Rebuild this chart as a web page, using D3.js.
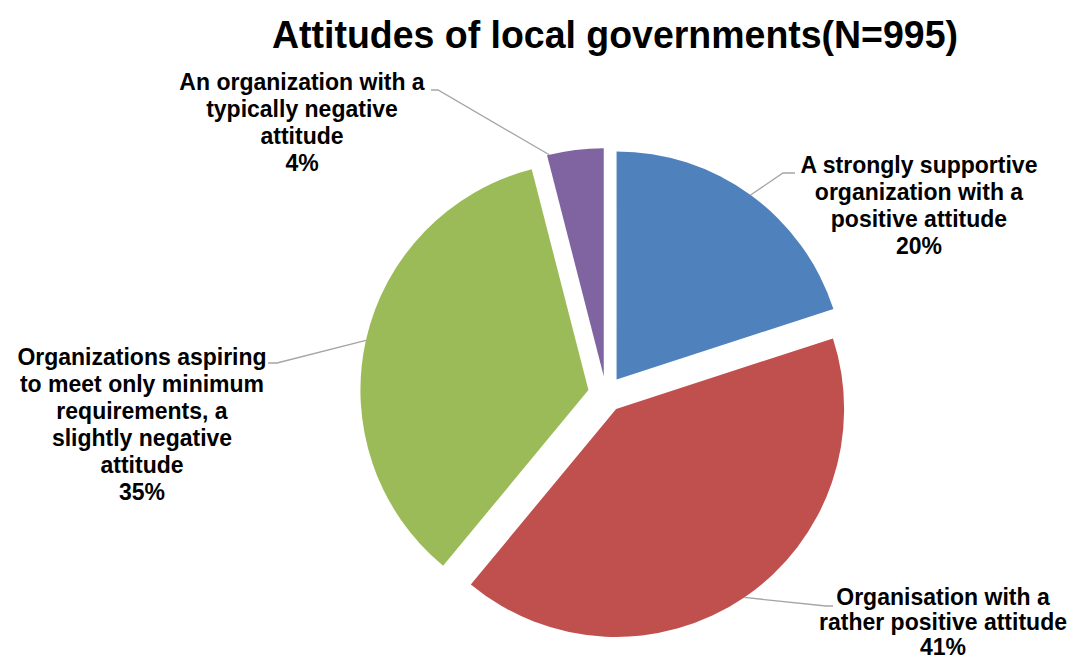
<!DOCTYPE html>
<html>
<head>
<meta charset="utf-8">
<script src="https://cdn.jsdelivr.net/npm/d3@7"></script>
<style>
  body { margin: 0; background: #fff; }
  svg { display: block; font-family: "Liberation Sans", Arial, sans-serif; }
</style>
</head>
<body>
<div id="chart"></div>
<script>
// Attitudes of local governments - exploded pie
const categories = [
  "A strongly supportive organization with a positive attitude",
  "Organisation with a rather positive attitude",
  "Organizations aspiring to meet only minimum requirements, a slightly negative attitude",
  "An organization with a typically negative attitude"
];
const shares = [20, 41, 35, 4];
const colors = ["#4F81BD", "#C0504D", "#9BBB59", "#8064A2"];
const labelLines = [
  ["A strongly supportive", "organization with a", "positive attitude"],
  ["Organisation with a", "rather positive attitude"],
  ["Organizations aspiring", "to meet only minimum", "requirements, a", "slightly negative", "attitude"],
  ["An organization with a", "typically negative", "attitude"]
];

const W = 1077, H = 663;
const cx = 606, cy = 394, R = 228, explode = 18;

// label placement (centre x, first baseline y) and leader elbows
const labelLayout = [
  { x: 919, y: 173, dy: 27, anchor: 0.5, elbow: [[783, 173], [795, 173]] },
  { x: 943, y: 605, dy: 25, anchor: 0.5, elbow: [[826, 606], [833, 606]] },
  { x: 142, y: 365, dy: 27, anchor: 0.5, elbow: [[277, 363], [268, 363]] },
  { x: 302, y: 90, dy: 27, anchor: 0.04, elbow: [[438, 90], [431, 90]] }
];

const svg = d3.select("#chart").append("svg")
  .attr("width", W)
  .attr("height", H);

svg.append("text")
  .attr("x", 615)
  .attr("y", 48)
  .attr("text-anchor", "middle")
  .attr("font-size", 39)
  .attr("font-weight", "bold")
  .attr("textLength", 686)
  .attr("lengthAdjust", "spacingAndGlyphs")
  .text("Attitudes of local governments(N=995)");

const pie = d3.pie().sort(null).value(d => d);
const arcs = pie(shares);
const arc = d3.arc().innerRadius(0).outerRadius(R);

const offset = d => {
  const m = (d.startAngle + d.endAngle) / 2;
  return [explode * Math.sin(m), -explode * Math.cos(m)];
};

svg.append("g").selectAll("path")
  .data(arcs)
  .join("path")
  .attr("transform", d => {
    const [ox, oy] = offset(d);
    return `translate(${cx + ox},${cy + oy})`;
  })
  .attr("d", arc)
  .attr("fill", (d, i) => colors[i]);

// leader lines
const line = d3.line();
svg.append("g").selectAll("path")
  .data(arcs)
  .join("path")
  .attr("fill", "none")
  .attr("stroke", "#a5a5a5")
  .attr("stroke-width", 1.3)
  .attr("d", (d, i) => {
    const L = labelLayout[i];
    const a = d.startAngle + (d.endAngle - d.startAngle) * L.anchor;
    const [ox, oy] = offset(d);
    const p = [cx + ox + R * Math.sin(a), cy + oy - R * Math.cos(a)];
    return line([p, ...L.elbow]);
  });

// labels
const labels = svg.append("g")
  .attr("font-size", 23)
  .attr("font-weight", "bold")
  .attr("fill", "#000")
  .attr("text-anchor", "middle");

arcs.forEach((d, i) => {
  const L = labelLayout[i];
  const t = labels.append("text").attr("x", L.x).attr("y", L.y);
  const lines = [...labelLines[i], shares[i] + "%"];
  lines.forEach((s, j) => {
    t.append("tspan")
      .attr("x", L.x)
      .attr("dy", j === 0 ? 0 : L.dy)
      .text(s);
  });
});
</script>
</body>
</html>
